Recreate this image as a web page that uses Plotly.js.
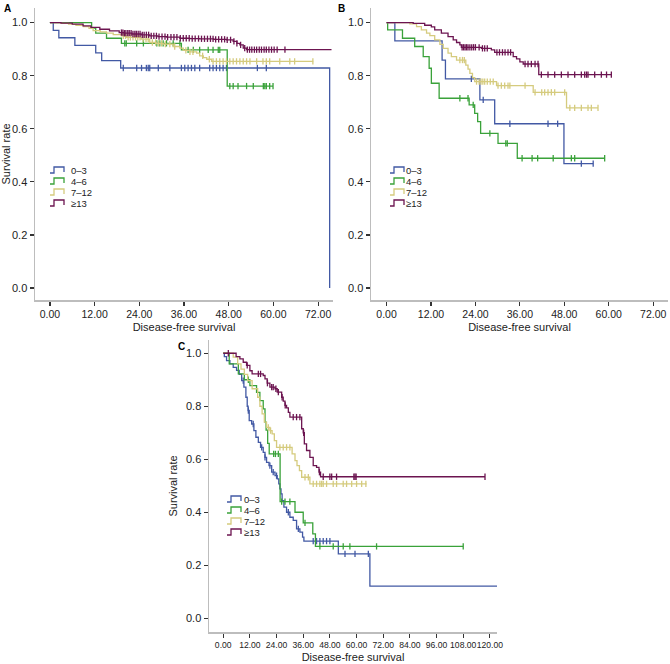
<!DOCTYPE html>
<html><head><meta charset="utf-8">
<script src="https://cdn.plot.ly/plotly-3.0.1.min.js"></script>
<style>html,body{margin:0;padding:0;background:#fff}#chart{width:670px;height:664px}</style>
</head><body><div id="chart"></div>
<script>
// ---------- data ----------
const groups = ['0–3', '4–6', '7–12', '≥13'];
const colors = ['#4259a4', '#3aa23a', '#d5cb7e', '#6c1450'];
const xTicksAB = [0, 12, 24, 36, 48, 60, 72];
const xTicksC = [0, 12, 24, 36, 48, 60, 72, 84, 96, 108, 120];
const yTicks = [0, 0.2, 0.4, 0.6, 0.8, 1.0];

// Panel A
const A_t0 = [0, 0.9, 2.4, 6.7, 12.3, 13.9, 19.0, 75.1];
const A_s0 = [1, 0.971, 0.943, 0.914, 0.886, 0.857, 0.829, 0];
const A_e0 = 75.1;
const A_c0 = [19.7, 23.3, 24.6, 25.9, 26.4, 26.8, 29.1, 32.2, 35.3, 36.2, 37.1, 38.0, 38.9, 40.2, 42.9, 43.8, 44.7, 45.6, 46.5, 47.4, 55.7, 58.1];
const A_t1 = [0, 11.2, 12.3, 15.2, 19.2, 35.3, 47.6];
const A_s1 = [1, 0.979, 0.96, 0.941, 0.922, 0.897, 0.761];
const A_e1 = 59.9;
const A_c1 = [20.1, 20.5, 23.3, 25.1, 28.7, 29.5, 30.4, 31.3, 33.1, 34.9, 37.1, 38.5, 40.2, 42.5, 43.8, 45.2, 45.6, 48.3, 49.2, 50.5, 52.8, 54.6, 57.3, 57.7, 58.1, 59.0, 59.9];
const A_t2 = [0, 3, 5, 7, 9, 10.5, 11.6, 13.5, 15.2, 17, 19.2, 20.6, 24.5, 26.8, 28.5, 30.4, 33.1, 34.9, 35.8, 37.5, 39.4, 40.2, 41.2, 42.1, 43.4];
const A_s2 = [1, 0.997, 0.994, 0.99, 0.985, 0.978, 0.97, 0.965, 0.96, 0.955, 0.95, 0.944, 0.938, 0.925, 0.922, 0.919, 0.91, 0.904, 0.895, 0.89, 0.885, 0.875, 0.868, 0.862, 0.854];
const A_e2 = 70.7;
const A_c2 = [19.7, 20.3, 21.0, 21.6, 22.3, 23.0, 23.6, 24.2, 25.0, 25.8, 26.4, 27.5, 28.4, 29.2, 30.0, 31.0, 32.2, 33.5, 36.5, 37.6, 38.4, 41.0, 42.8, 43.8, 44.7, 45.6, 46.5, 47.4, 48.3, 49.2, 50.1, 51.0, 51.9, 52.8, 53.7, 55.5, 57.2, 58.1, 59.0, 61.7, 64.4, 65.7, 70.6];
const A_t3 = [0, 3, 6, 8.9, 11, 13.4, 16, 18.6, 20, 22, 24.5, 26.8, 29, 31.3, 34.9, 37.5, 40.2, 44, 47.4, 49.2, 50.2, 51, 51.9, 52.8];
const A_s3 = [1, 0.998, 0.994, 0.988, 0.982, 0.975, 0.969, 0.9625, 0.96, 0.957, 0.954, 0.95, 0.947, 0.945, 0.941, 0.94, 0.939, 0.937, 0.935, 0.929, 0.922, 0.916, 0.904, 0.898];
const A_e3 = 75.6;
const A_c3 = [19.2, 19.6, 20.0, 20.4, 20.9, 21.3, 21.8, 22.3, 22.8, 23.2, 23.7, 24.2, 24.8, 25.3, 25.9, 26.5, 27.2, 27.9, 28.6, 29.3, 30.1, 30.9, 31.6, 32.5, 33.3, 34.1, 35.0, 35.8, 36.6, 37.4, 38.2, 39.0, 39.9, 40.7, 41.5, 42.3, 43.1, 43.8, 44.5, 45.3, 46.1, 46.9, 47.6, 48.5, 49.4, 50.2, 51.2, 52.3, 53.0, 53.6, 54.2, 54.9, 55.5, 56.2, 56.8, 57.5, 58.1, 58.8, 59.5, 60.2, 61.0, 63.1];

// Panel B
const B_t0 = [0, 2.24, 15.0, 15.9, 25.2, 29.2, 47.9];
const B_s0 = [1, 0.931, 0.859, 0.788, 0.709, 0.619, 0.469];
const B_e0 = 55.8;
const B_c0 = [22.9, 26.1, 33.3, 43.6, 46.2, 52.6, 55.8];
const B_t1 = [0, 0.3, 4.3, 7.6, 9.9, 11.5, 12.1, 14.2, 22.3, 23.8, 24.6, 25.4, 30.1, 35.3];
const B_s1 = [1, 0.9725, 0.941, 0.91, 0.872, 0.828, 0.7715, 0.715, 0.69, 0.658, 0.627, 0.583, 0.545, 0.489];
const B_e1 = 58.9;
const B_c1 = [19.8, 22.0, 23.4, 27.9, 32.2, 32.6, 36.6, 39.3, 40.8, 45.0, 49.9, 50.8, 58.9];
const B_t2 = [0, 6.3, 8.1, 9.4, 10.8, 11.7, 13.0, 14.4, 15.3, 16.6, 17.5, 18.9, 21.4, 22.0, 22.5, 23.2, 23.8, 29.7, 39.6, 48.6];
const B_s2 = [1, 0.995, 0.985, 0.9725, 0.96, 0.951, 0.935, 0.918, 0.903, 0.885, 0.872, 0.859, 0.84, 0.825, 0.809, 0.793, 0.778, 0.7625, 0.7375, 0.679];
const B_e2 = 57.1;
const B_c2 = [19.8, 20.5, 21.0, 24.3, 25.0, 25.5, 26.0, 26.5, 27.2, 28.0, 28.8, 30.1, 31.0, 31.9, 32.8, 33.3, 37.4, 40.1, 41.9, 42.7, 43.6, 44.5, 45.4, 48.1, 49.5, 50.8, 52.6, 54.4, 55.3, 57.1];
const B_t3 = [0, 7.2, 10.3, 12.1, 13.0, 14.8, 16.6, 18.0, 18.9, 19.8, 20.2, 25.6, 28.3, 29.2, 34.2, 35.1, 36.0, 36.9, 41.1];
const B_s3 = [1, 0.997, 0.99, 0.984, 0.9725, 0.96, 0.9475, 0.935, 0.925, 0.916, 0.907, 0.903, 0.897, 0.888, 0.872, 0.863, 0.852, 0.844, 0.804];
const B_e3 = 60.7;
const B_c3 = [20.4, 20.8, 21.2, 21.6, 22.0, 22.5, 23.0, 23.5, 24.0, 25.0, 25.9, 26.5, 27.2, 29.8, 30.5, 31.3, 32.0, 32.8, 33.5, 37.4, 38.2, 39.1, 40.1, 40.9, 41.8, 43.6, 45.4, 47.2, 49.0, 50.8, 52.6, 53.5, 54.0, 54.4, 56.2, 58.0, 59.4, 60.7];

// Panel C
const C_t0 = [0, 0.5, 1.5, 3, 4.5, 6, 7.2, 8.3, 9.3, 10.2, 10.8, 11.2, 11.7, 12.8, 13.8, 14.7, 15.8, 16.8, 18, 18.8, 19.5, 20.6, 21.8, 23.3, 24.3, 25.0, 25.5, 26.0, 26.5, 27.3, 28.5, 30, 31.5, 33, 34.5, 35.7, 36.3, 51.8, 66.0];
const C_s0 = [1, 0.987, 0.972, 0.96, 0.947, 0.935, 0.92, 0.897, 0.872, 0.834, 0.8, 0.784, 0.746, 0.733, 0.708, 0.683, 0.664, 0.645, 0.626, 0.607, 0.588, 0.576, 0.551, 0.538, 0.526, 0.507, 0.488, 0.469, 0.444, 0.419, 0.4, 0.381, 0.369, 0.337, 0.325, 0.306, 0.291, 0.243, 0.121];
const C_e0 = 124.5;
const C_c0 = [9.0, 11.3, 13.5, 17.3, 18.8, 21.0, 22.5, 24.0, 29.3, 33.8, 40.5, 42.0, 43.5, 45.0, 46.5, 48.0, 54.8, 59.3, 65.3];
const C_t1 = [0, 2.7, 6.8, 9.5, 12.0, 15.0, 16.5, 18.0, 18.8, 19.3, 20.0, 20.7, 25.6, 32.3, 36.0, 40.3, 41.5];
const C_s1 = [1, 0.96, 0.922, 0.9, 0.878, 0.852, 0.821, 0.79, 0.74, 0.71, 0.66, 0.62, 0.44, 0.40, 0.36, 0.318, 0.271];
const C_e1 = 108.0;
const C_c1 = [11.3, 22.7, 23.5, 24.8, 26.3, 27.8, 30.0, 36.8, 43.5, 49.5, 54.0, 57.0, 69.0, 108.0];
const C_t2 = [0, 4.5, 6.5, 8.0, 9.5, 11.0, 13.0, 15.5, 16.5, 17.5, 18.5, 19.5, 21.0, 22.0, 23.0, 24.0, 31.0, 32.3, 33.2, 34.3, 35.3, 39.0];
const C_s2 = [1, 0.985, 0.96, 0.94, 0.92, 0.897, 0.866, 0.834, 0.8, 0.771, 0.74, 0.72, 0.708, 0.696, 0.67, 0.645, 0.62, 0.595, 0.576, 0.557, 0.532, 0.507];
const C_e2 = 64.5;
const C_c2 = [20.3, 21.3, 25.5, 27.0, 28.5, 30.0, 36.8, 38.3, 40.5, 42.0, 43.5, 44.3, 45.0, 46.5, 49.5, 51.0, 54.0, 55.5, 57.8, 60.0, 62.3, 64.2];
const C_t3 = [0, 5.8, 7.5, 9.0, 10.5, 12.0, 13.0, 18.0, 18.8, 19.8, 21.0, 23.3, 24.3, 26.3, 27.0, 27.8, 28.5, 29.3, 30.0, 35.3, 36.0, 36.5, 37.5, 39.0, 40.5, 42.0, 43.1, 43.8];
const C_s3 = [1, 0.987, 0.979, 0.966, 0.954, 0.934, 0.922, 0.916, 0.903, 0.887, 0.872, 0.866, 0.853, 0.834, 0.819, 0.803, 0.794, 0.777, 0.759, 0.715, 0.70, 0.658, 0.633, 0.607, 0.576, 0.569, 0.551, 0.534];
const C_e3 = 117.8;
const C_c3 = [2.3, 10.8, 15.8, 16.8, 19.9, 21.8, 22.5, 23.7, 24.8, 26.5, 27.9, 31.5, 33.0, 34.5, 36.2, 43.3, 45.0, 48.0, 48.8, 51.0, 58.8, 59.3, 59.8, 117.8];

// ---------- build ----------
const W = 670, H = 664;
const FONT = 'Arial, "Liberation Sans", sans-serif';
const panels = [
  {sfx: '', T: [A_t0, A_t1, A_t2, A_t3], S: [A_s0, A_s1, A_s2, A_s3], E: [A_e0, A_e1, A_e2, A_e3], C: [A_c0, A_c1, A_c2, A_c3]},
  {sfx: '2', T: [B_t0, B_t1, B_t2, B_t3], S: [B_s0, B_s1, B_s2, B_s3], E: [B_e0, B_e1, B_e2, B_e3], C: [B_c0, B_c1, B_c2, B_c3]},
  {sfx: '3', T: [C_t0, C_t1, C_t2, C_t3], S: [C_s0, C_s1, C_s2, C_s3], E: [C_e0, C_e1, C_e2, C_e3], C: [C_c0, C_c1, C_c2, C_c3]}
];
function stepAt(t, s, c) { let y = s[0]; for (let i = 0; i < t.length; i++) { if (t[i] <= c) y = s[i]; } return y; }

const traces = [];
panels.forEach(p => {
  for (let g = 0; g < 4; g++) {
    const t = p.T[g], s = p.S[g];
    traces.push({
      x: t.concat([p.E[g]]), y: s.concat([s[s.length - 1]]),
      mode: 'lines', line: {shape: 'hv', color: colors[g], width: 1.3},
      xaxis: 'x' + p.sfx, yaxis: 'y' + p.sfx, name: groups[g], hoverinfo: 'skip'
    });
    traces.push({
      x: p.C[g], y: p.C[g].map(c => stepAt(t, s, c)),
      mode: 'markers', marker: {symbol: 'line-ns', size: 4.5, color: colors[g], line: {width: 1.3, color: colors[g]}},
      xaxis: 'x' + p.sfx, yaxis: 'y' + p.sfx, name: groups[g], hoverinfo: 'skip'
    });
  }
});

function px(x) { return x / W; }
function py(y) { return 1 - y / H; }

const axBase = {
  showline: true, linecolor: '#bdbdbd', linewidth: 1.5, ticks: 'outside', ticklen: 4, tickwidth: 1.2,
  tickcolor: '#333', showgrid: false, zeroline: false, tickangle: 0, fixedrange: true
};
function xAx(domain, range, ticks, fs) {
  return Object.assign({}, axBase, {domain: domain, range: range, tickvals: ticks,
    ticktext: ticks.map(v => v.toFixed(2)), tickfont: {family: FONT, size: fs, color: '#222'},
    title: {text: 'Disease-free survival', font: {family: FONT, size: 11, color: '#222'}, standoff: 4}});
}
function yAx(domain, range, anchor, withTitle) {
  return Object.assign({}, axBase, {domain: domain, range: range, anchor: anchor, tickvals: yTicks,
    ticktext: yTicks.map(v => v.toFixed(1)), tickfont: {family: FONT, size: 11, color: '#222'},
    title: withTitle ? {text: 'Survival rate', font: {family: FONT, size: 11, color: '#222'}, standoff: 6} : {text: ''}});
}

const layout = {
  width: W, height: H, margin: {l: 0, r: 0, t: 0, b: 0}, showlegend: false,
  paper_bgcolor: '#fff', plot_bgcolor: '#fff',
  xaxis: Object.assign(xAx([px(35), px(333)], [-4, 76], xTicksAB, 10.5), {anchor: 'y'}),
  yaxis: yAx([py(300), py(8)], [-0.045, 1.055], 'x', true),
  xaxis2: Object.assign(xAx([px(371), px(668)], [-4.2, 76], xTicksAB, 10.5), {anchor: 'y2'}),
  yaxis2: yAx([py(300), py(8)], [-0.045, 1.055], 'x2', false),
  xaxis3: Object.assign(xAx([px(209), px(497)], [-6.4, 123.2], xTicksC, 8.6), {anchor: 'y3'}),
  yaxis3: yAx([py(632), py(340)], [-0.052, 1.05], 'x3', true),
  annotations: [], shapes: []
};

// panel letters
[['A', 2, 1], ['B', 336, 1], ['C', 176, 339]].forEach(l => {
  layout.annotations.push({text: '<b>' + l[0] + '</b>', x: px(l[1]), y: py(l[2]), xref: 'paper', yref: 'paper',
    xanchor: 'left', yanchor: 'top', showarrow: false, font: {family: FONT, size: 10, color: '#000'}});
});

// legends (step-shaped keys)
const legendPos = [
  {sx: 50, tx: 70, y0: 170, dy: 11},
  {sx: 390, tx: 405, y0: 170, dy: 11},
  {sx: 227, tx: 243, y0: 499, dy: 11}
];
legendPos.forEach(L => {
  for (let g = 0; g < 4; g++) {
    const yc = L.y0 + g * L.dy, x0 = L.sx;
    const pts = [[x0, yc + 3], [x0 + 4, yc + 3], [x0 + 4, yc - 3], [x0 + 14, yc - 3], [x0 + 14, yc + 2]];
    layout.shapes.push({type: 'path', xref: 'paper', yref: 'paper',
      path: pts.map((q, i) => (i ? 'L' : 'M') + px(q[0]) + ',' + py(q[1])).join(' '),
      line: {color: colors[g], width: 1.3}});
    layout.annotations.push({text: groups[g], x: px(L.tx), y: py(yc), xref: 'paper', yref: 'paper',
      xanchor: 'left', yanchor: 'middle', showarrow: false, borderpad: 0,
      font: {family: FONT, size: 9.5, color: '#222'}});
  }
});

Plotly.newPlot('chart', traces, layout, {staticPlot: true, displayModeBar: false});
</script>
</body></html>
